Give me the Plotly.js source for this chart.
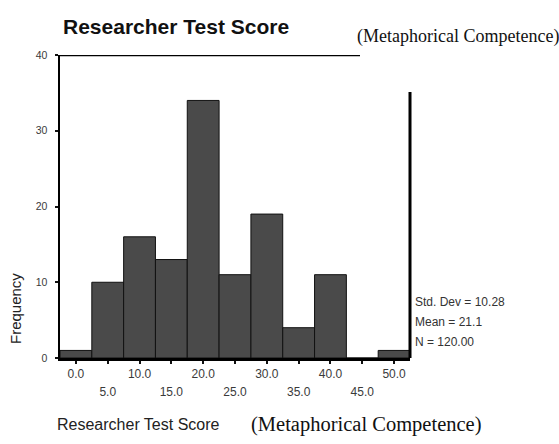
<!DOCTYPE html>
<html>
<head>
<meta charset="utf-8">
<script src="https://cdn.plot.ly/plotly-3.0.1.min.js"></script>
<style>html,body{margin:0;padding:0;background:#fff;}#chart{width:559px;height:444px;}</style>
</head>
<body>
<div id="chart"></div>
<script>
// Data
const binCenters = [0, 5, 10, 15, 20, 25, 30, 35, 40, 45, 50];
const frequencies = [1, 10, 16, 13, 34, 11, 19, 4, 11, 0, 1];
const evenTickVals = [0, 10, 20, 30, 40, 50];
const evenTickText = ["0.0", "10.0", "20.0", "30.0", "40.0", "50.0"];
const oddTickVals = [5, 15, 25, 35, 45];
const oddTickText = ["5.0", "15.0", "25.0", "35.0", "45.0"];
const yTickVals = [0, 10, 20, 30, 40];
const yTickText = ["0", "10", "20", "30", "40"];
const statsLines = ["Std. Dev = 10.28", "Mean = 21.1", "N = 120.00"];
const binWidth = 5;

const W = 559, H = 444;
const L = 60, R = 149, T = 55, B = 86;
const pw = W - L - R, ph = H - T - B;
const px = v => (v - L) / pw;           // pixel x -> paper
const py = v => (H - B - v) / ph;       // pixel y -> paper

const sans = "Liberation Sans, Arial, sans-serif";
const serif = "Liberation Serif, Times New Roman, serif";

const trace = {
  type: "bar",
  x: binCenters,
  y: frequencies,
  width: binCenters.map(() => binWidth),
  marker: { color: "#4a4a4a", line: { color: "#111", width: 1 } },
  hoverinfo: "none",
  xaxis: "x", yaxis: "y"
};
// invisible trace to activate xaxis2
const trace2 = {
  type: "scatter", x: oddTickVals, y: oddTickVals.map(() => null),
  xaxis: "x2", yaxis: "y", showlegend: false, hoverinfo: "none"
};

const annotations = [
  { text: "Researcher Test Score", xref: "paper", yref: "paper", x: px(61), y: py(26),
    xanchor: "left", yanchor: "middle", showarrow: false,
    font: { family: sans, size: 21, color: "#111", weight: "bold" } },
  { text: "(Metaphorical Competence)", xref: "paper", yref: "paper", x: px(355), y: py(37),
    xanchor: "left", yanchor: "middle", showarrow: false,
    font: { family: serif, size: 18, color: "#111" } },
  { text: "Frequency", xref: "paper", yref: "paper", x: px(15), y: py(309),
    xanchor: "center", yanchor: "middle", textangle: -90, showarrow: false,
    font: { family: sans, size: 15, color: "#222" } },
  { text: "Researcher Test Score", xref: "paper", yref: "paper", x: px(55), y: py(424),
    xanchor: "left", yanchor: "middle", showarrow: false,
    font: { family: sans, size: 16, color: "#222" } },
  { text: "(Metaphorical Competence)", xref: "paper", yref: "paper", x: px(249), y: py(424),
    xanchor: "left", yanchor: "middle", showarrow: false,
    font: { family: serif, size: 20.5, color: "#111" } }
];
const statY = [302, 322, 342];
statsLines.forEach((s, i) => annotations.push({
  text: s, xref: "paper", yref: "paper", x: px(413), y: py(statY[i]),
  xanchor: "left", yanchor: "middle", showarrow: false,
  font: { family: sans, size: 12, color: "#333" }
}));

const layout = {
  width: W, height: H,
  margin: { l: L, r: R, t: T, b: B, pad: 0 },
  paper_bgcolor: "#fff", plot_bgcolor: "#fff",
  showlegend: false, bargap: 0,
  xaxis: {
    range: [-2.5, 52.5], tickmode: "array",
    tickvals: evenTickVals.concat(oddTickVals),
    ticktext: evenTickText.concat(oddTickVals.map(() => "")),
    ticks: "outside", ticklen: 3, tickwidth: 2, tickcolor: "#111",
    showline: true, linewidth: 2.5, linecolor: "#000",
    showgrid: false, zeroline: false, fixedrange: true,
    tickfont: { family: sans, size: 12, color: "#3a3a3a" }
  },
  xaxis2: {
    overlaying: "x", anchor: "y", side: "bottom",
    range: [-2.5, 52.5], tickmode: "array",
    tickvals: oddTickVals, ticktext: oddTickText,
    ticks: "", showline: false, showgrid: false, zeroline: false,
    ticklabelstandoff: 25, fixedrange: true,
    tickfont: { family: sans, size: 12, color: "#3a3a3a" }
  },
  yaxis: {
    range: [0, 40], tickmode: "array", tickvals: yTickVals, ticktext: yTickText,
    ticks: "outside", ticklen: 3, tickwidth: 2, tickcolor: "#111",
    showline: true, linewidth: 2.5, linecolor: "#000",
    showgrid: false, zeroline: false, fixedrange: true,
    ticklabelstandoff: 5,
    tickfont: { family: sans, size: 10.5, color: "#3a3a3a" }
  },
  shapes: [
    { type: "line", xref: "paper", yref: "y", x0: 0, x1: px(360), y0: 40, y1: 40,
      line: { color: "#000", width: 2.5 } },
    { type: "line", xref: "paper", yref: "y", x0: 1, x1: 1, y0: 0, y1: 35.1,
      line: { color: "#000", width: 3 } }
  ],
  annotations: annotations
};

Plotly.newPlot("chart", [trace, trace2], layout, { staticPlot: true, displayModeBar: false });
</script>
</body>
</html>
